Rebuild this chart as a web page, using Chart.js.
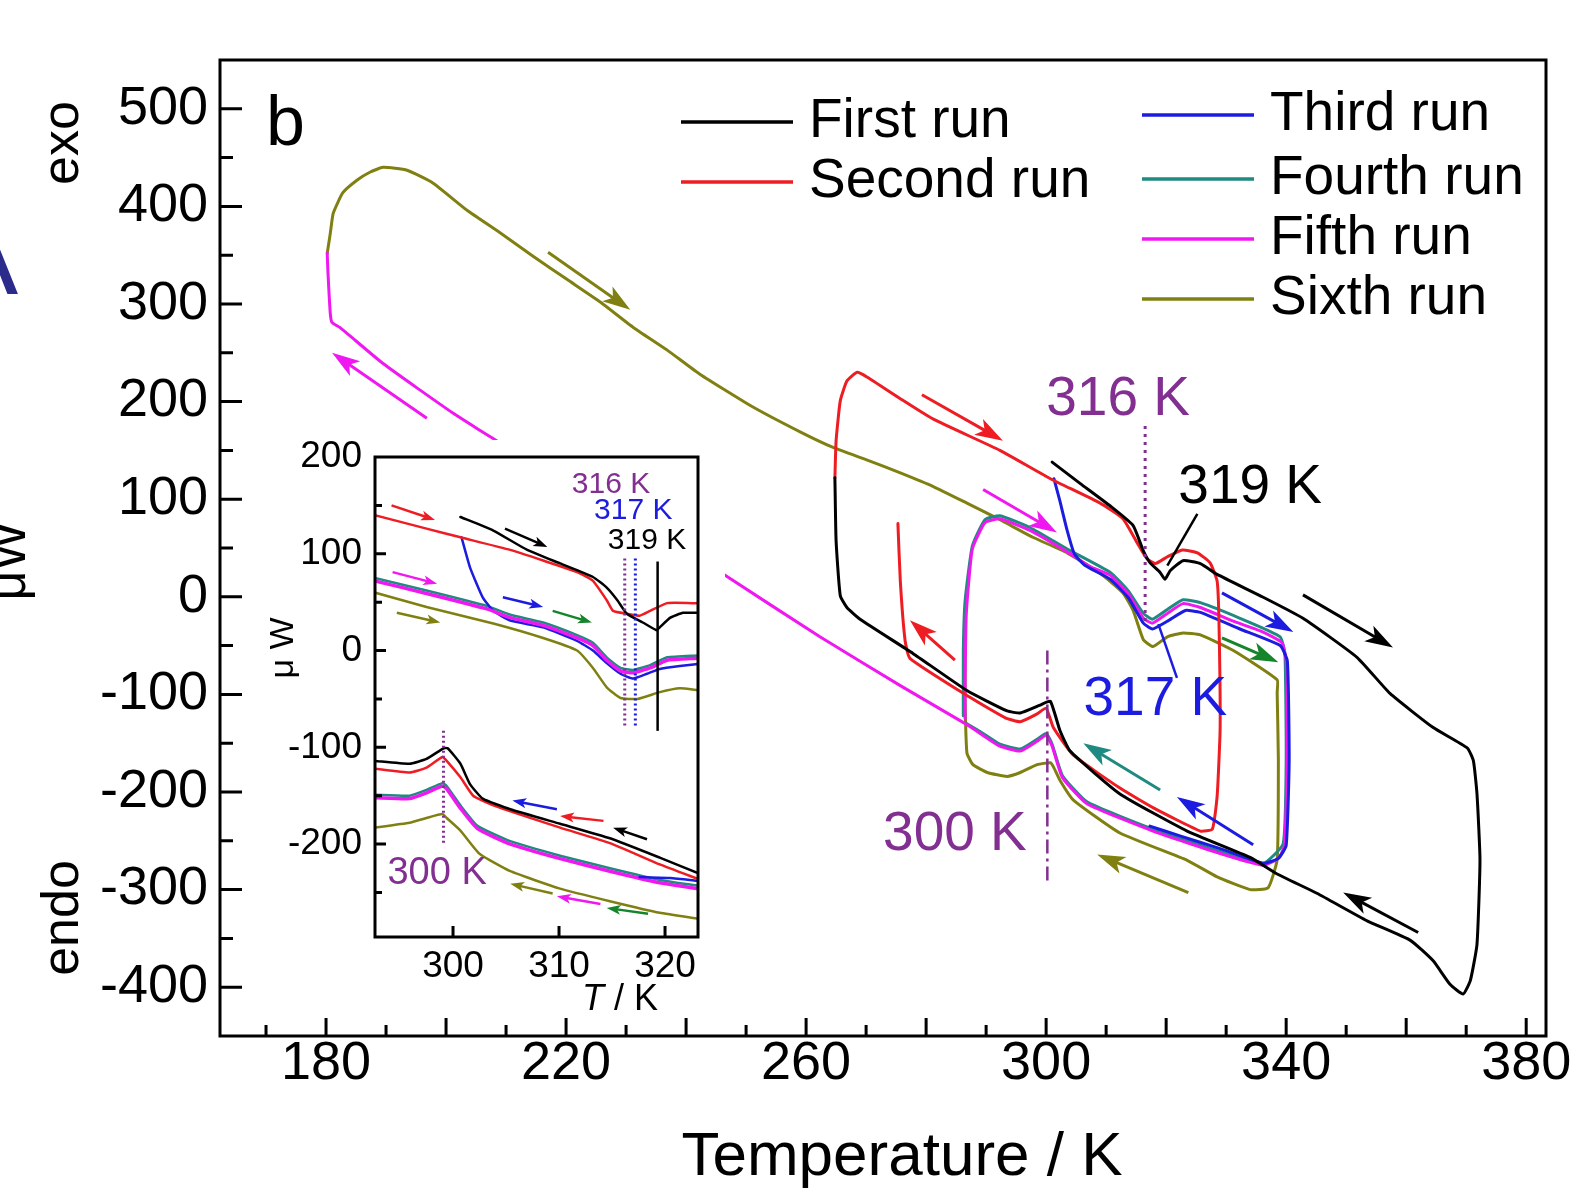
<!DOCTYPE html>
<html>
<head>
<meta charset="utf-8">
<script src="https://cdn.jsdelivr.net/npm/chart.js@4.4.1/dist/chart.umd.min.js"></script>
<style>
html, body { margin: 0; padding: 0; background: #fff; }
#wrap { position: relative; width: 1572px; height: 1188px; overflow: hidden; background: #fff; }
#main { position: absolute; left: 0; top: 0; }
#inset { position: absolute; left: 262px; top: 440px; background: #fff; }
</style>
</head>
<body>
<div id="wrap">
  <canvas id="main" width="1572" height="1188"></canvas>
  <canvas id="inset" width="463" height="578"></canvas>
</div>
<script>
// ---- main panel: heat flow (uW) vs temperature (K) ----
const firstRunT = [301, 305.7, 310.7, 314.5, 316.2, 317.3, 319, 319.8, 320.7, 322.8, 325.7, 328.5, 335.7, 342.8, 351.8, 357.3, 364.5, 370.2, 371.2, 371.8, 372.3, 371.8, 370.7, 369.5, 367.3, 364.5, 360.7, 353.5, 345.2, 338.5, 334, 323.5, 312.3, 304, 302.3, 300.7, 299, 295.7, 293.5, 286.8, 277.8, 269, 266.8, 265.7, 265, 264.8];
const firstRunQ = [138, 116, 93, 73, 47, 35, 25, 18, 27, 37, 34, 23, 1, -22, -62, -99, -134, -155, -168, -202, -270, -356, -393, -407, -397, -373, -352, -332, -304, -284, -267, -240, -202, -158, -137, -107, -111, -119, -117, -96, -58, -23, -11, 1, 57, 122];

const secondRunT = [264.8, 265, 265.7, 266.8, 268.5, 270.2, 275.7, 281.2, 292.3, 300.7, 309, 312.8, 315.2, 316.8, 318.2, 320.2, 322.7, 325.2, 327.3, 328.5, 328.8, 329, 328.5, 327.7, 325.7, 317.8, 312.3, 304.5, 301.2, 300, 298.5, 295.7, 293.2, 287.3, 277.3, 276.5, 275.7, 275.3];
const secondRunQ = [122, 160, 201, 221, 230, 225, 203, 182, 150, 121, 96, 80, 55, 39, 34, 41, 48, 45, 35, 16, -25, -134, -204, -238, -240, -216, -196, -162, -134, -114, -120, -128, -124, -103, -63, -45, 16, 75];

const thirdRunT = [301.3, 302.3, 303.5, 304.7, 306.5, 310.7, 313.7, 316.2, 317.7, 320.2, 323.2, 325.7, 332.3, 339, 340.2, 340.5, 340, 338.7, 336.2, 329, 322.3, 317.3];
const thirdRunQ = [121, 98, 68, 44, 32, 18, -1, -27, -33, -25, -14, -16, -33, -50, -66, -168, -255, -268, -273, -258, -245, -235];

const fourthRunT = [286.2, 286.2, 286.5, 287.7, 289.8, 292.3, 297.3, 303.5, 310.7, 313.7, 316.2, 317.7, 320.2, 322.8, 325.7, 332.3, 339, 339.8, 340, 339.5, 336.2, 329, 317.8, 306.8, 302.7, 301, 300, 298.5, 295.7, 292.3, 289, 286.5];
const fourthRunQ = [-122, -55, -4, 52, 79, 83, 71, 49, 25, 6, -17, -23, -13, -3, -6, -22, -41, -60, -168, -253, -273, -261, -238, -210, -183, -151, -140, -146, -156, -151, -138, -129];

const fifthRunT = [286.5, 286.5, 286.7, 287.7, 289.8, 292.3, 297.3, 303.5, 307.3, 310.7, 313.7, 316.2, 317.7, 320.2, 322.8, 325.7, 331.2, 335.7, 339.3, 340, 340.2, 339.7, 338.7, 336.2, 329, 317.8, 306.8, 302.7, 301, 300, 298.5, 295.7, 292.3, 289, 286.8, 275.7, 262.3, 246.5, 229, 209, 201.2, 189.5, 182.3, 181, 180.7, 180.3, 180.2];
const fifthRunQ = [-125, -86, -17, 49, 76, 80, 68, 46, 31, 22, 3, -22, -27, -17, -7, -11, -25, -35, -47, -66, -168, -255, -268, -275, -263, -240, -212, -185, -153, -142, -148, -158, -153, -140, -131, -91, -41, 22, 91, 158, 188, 239, 276, 281, 291, 335, 352];

const sixthRunT = [180.2, 180.7, 181.2, 182.8, 185.2, 187.3, 189.5, 193.5, 197.8, 203.5, 209, 214.5, 220.2, 225.7, 231.2, 236.8, 242.3, 250.7, 259, 264.5, 270.2, 275.7, 281.2, 286.8, 292.3, 297.8, 303.5, 309, 312.8, 314.5, 316.2, 317.8, 320.2, 322.8, 325.7, 331.2, 338.5, 338.5, 338.7, 338.5, 337, 334, 328.5, 323.5, 312.3, 304.5, 302.3, 301.2, 300.7, 298.5, 295.7, 293.5, 290.2, 287.8, 286.8, 286.5, 286.5];
const sixthRunQ = [352, 372, 393, 414, 427, 435, 440, 437, 424, 396, 373, 349, 325, 302, 276, 253, 228, 196, 169, 153, 140, 127, 113, 96, 79, 61, 45, 24, 4, -14, -44, -51, -41, -37, -39, -55, -85, -98, -167, -269, -298, -300, -287, -270, -242, -208, -188, -174, -170, -172, -180, -184, -180, -172, -160, -105, -54];

// ---- inset: 293-323 K, upper = heating, lower = cooling ----
const inFirstUpT = [300.7, 303.8, 307, 310.1, 313.2, 314.5, 315.5, 316.4, 317.9, 319.2, 319.5, 320.5, 321.7, 323.1];
const inFirstUpQ = [138, 124, 104, 90, 76, 65, 52, 38, 29, 21, 24, 34, 39, 39];
const inFirstLowT = [292.6, 295.9, 297.5, 299.1, 299.5, 300.7, 301.6, 302.8, 305.4, 310.1, 314.8, 319.5, 323.1];
const inFirstLowQ = [-114, -117, -112, -101, -101, -117, -138, -153, -164, -179, -194, -214, -230];

const inSecondUpT = [292.6, 297.5, 300.7, 305.4, 308.5, 311.7, 313.2, 314.5, 315.1, 316.4, 317.6, 318.6, 320.2, 322.6, 323.1];
const inSecondUpQ = [140, 126, 117, 104, 93, 81, 72, 52, 41, 38, 36, 41, 49, 49, 49];
const inSecondLowT = [292.6, 295.9, 297.5, 299, 299.4, 300.7, 301.9, 303.8, 310.1, 314.8, 319.5, 323.1];
const inSecondLowQ = [-122, -126, -121, -110, -114, -131, -150, -160, -183, -199, -221, -236];

const inThirdUpT = [300.8, 301.6, 302.8, 303.8, 305.4, 308.5, 311.7, 313.2, 314.5, 315.8, 317, 318.3, 319.5, 321.4, 323.1];
const inThirdUpQ = [117, 86, 55, 41, 31, 24, 10, 0, -13, -24, -29, -24, -19, -16, -14];
const inThirdLowT = [317.6, 320.5, 323.1];
const inThirdLowQ = [-234, -235, -238];

const inFourthUpT = [292.6, 297.5, 303.2, 305.4, 308.5, 311.7, 313.2, 314.5, 315.8, 317, 318.6, 320.2, 323.1];
const inFourthUpQ = [75, 62, 46, 37, 29, 16, 8, -7, -18, -20, -15, -7, -5];
const inFourthLowT = [292.6, 295.9, 297.5, 299, 299.4, 300.7, 302.3, 305.4, 310.1, 314.8, 319.5, 323.1];
const inFourthLowQ = [-149, -150, -144, -137, -140, -160, -181, -197, -212, -225, -237, -243];

const inFifthUpT = [292.6, 297.5, 303.2, 305.4, 308.5, 311.7, 313.2, 314.5, 315.8, 317, 318.6, 320.2, 323.1];
const inFifthUpQ = [72, 59, 43, 34, 26, 13, 5, -10, -21, -23, -18, -10, -8];
const inFifthLowT = [292.6, 295.9, 297.5, 299, 299.4, 300.7, 302.3, 305.4, 310.1, 314.8, 319.5, 323.1];
const inFifthLowQ = [-152, -153, -147, -140, -143, -163, -184, -200, -215, -228, -240, -246];

const inSixthUpT = [292.6, 297.5, 303.8, 308.5, 311.7, 313.2, 314.5, 315.8, 317.4, 319.5, 321.4, 323.1];
const inSixthUpQ = [60, 45, 28, 13, 0, -18, -38, -49, -50, -43, -39, -41];
const inSixthLowT = [292.6, 295.9, 297.5, 299, 299.4, 300.7, 302.5, 305.4, 310.1, 314.8, 319.5, 323.1];
const inSixthLowQ = [-183, -178, -173, -169, -173, -186, -210, -228, -246, -259, -271, -277];

const runLabels = ['First run', 'Second run', 'Third run', 'Fourth run', 'Fifth run', 'Sixth run'];

const BLACK = '#000000', RED = '#ee1d23', BLUE = '#1c1ce0', TEAL = '#1f8a82',
      MAGENTA = '#f018f0', OLIVE = '#808012', GREEN = '#14852a', PURPLE = '#822f91';
const FONT = "'Liberation Sans', Arial, Helvetica, sans-serif";

// direction arrows [tailT, tailQ, headT, headQ, colour]
const mainArrows = [
  [217, 353, 230.7, 294, OLIVE],
  [196.8, 183, 181, 250, MAGENTA],
  [279.3, 207, 292.8, 160, RED],
  [289.5, 110, 301.8, 66, MAGENTA],
  [329.3, 4, 341.2, -36, BLUE],
  [342.8, 2, 357.8, -52, BLACK],
  [329.3, -42, 338.7, -67, GREEN],
  [284.8, -65, 277.3, -24, RED],
  [319, -198, 306.2, -150, TEAL],
  [334.5, -254, 321.8, -205, BLUE],
  [323.7, -303, 308.5, -264, OLIVE],
  [362, -344, 349.5, -303, BLACK]
];
const insetArrows = [
  [294.2, 150, 298.3, 135, RED],
  [304.9, 126, 308.9, 107, BLACK],
  [294.3, 81, 298.5, 69, MAGENTA],
  [294.7, 39, 298.8, 29, OLIVE],
  [304.7, 55, 308.5, 45, BLUE],
  [309.4, 41, 313.1, 29, GREEN],
  [309.8, -164, 305.6, -155, BLUE],
  [314.2, -176, 310.1, -171, RED],
  [318.3, -195, 315.1, -183, BLACK],
  [309.4, -251, 305.4, -241, OLIVE],
  [313.9, -262, 309.8, -254, MAGENTA],
  [318.4, -272, 314.5, -266, GREEN]
];

function pts(T, Q) { return T.map((t, i) => ({x: t, y: Q[i]})); }
function line(label, T, Q, color, order, width) {
  return {label: label, data: pts(T, Q), borderColor: color, backgroundColor: color,
    borderWidth: width, showLine: true, pointRadius: 0, tension: 0.15,
    borderJoinStyle: 'round', borderCapStyle: 'round', order: order};
}

function drawArrow(ctx, x1, y1, x2, y2, color, L, W, lw) {
  const a = Math.atan2(y2 - y1, x2 - x1), c = Math.cos(a), s = Math.sin(a);
  const bx = x2 - L * c, by = y2 - L * s;
  ctx.strokeStyle = color; ctx.fillStyle = color; ctx.lineWidth = lw; ctx.setLineDash([]);
  ctx.beginPath(); ctx.moveTo(x1, y1); ctx.lineTo(x2 - 0.6 * L * c, y2 - 0.6 * L * s); ctx.stroke();
  ctx.beginPath();
  ctx.moveTo(x2, y2);
  ctx.lineTo(bx - W * s, by + W * c);
  ctx.lineTo(x2 - 0.75 * L * c, y2 - 0.75 * L * s);
  ctx.lineTo(bx + W * s, by - W * c);
  ctx.closePath(); ctx.fill();
}

// frame + inward tick marks
const framePlugin = {
  id: 'frame',
  afterDraw(chart, args, o) {
    const {ctx, chartArea: a} = chart, x = chart.scales.x, y = chart.scales.y;
    ctx.save();
    ctx.strokeStyle = '#000'; ctx.lineWidth = o.width; ctx.setLineDash([]);
    ctx.beginPath();
    x.ticks.forEach(t => {
      const p = x.getPixelForValue(t.value);
      if (p <= a.left + 1 || p >= a.right - 1) return;
      const len = t.value % o.xMajorStep === 0 ? o.xMajor : o.xMinor;
      ctx.moveTo(p, a.bottom); ctx.lineTo(p, a.bottom - len);
    });
    y.ticks.forEach(t => {
      const p = y.getPixelForValue(t.value);
      if (p <= a.top + 1 || p >= a.bottom - 1) return;
      const len = t.value % o.yMajorStep === 0 ? o.yMajor : o.yMinor;
      ctx.moveTo(a.left, p); ctx.lineTo(a.left + len, p);
    });
    ctx.stroke();
    ctx.strokeRect(a.left, a.top, a.right - a.left, a.bottom - a.top);
    ctx.restore();
  }
};

// marker lines, pointers, arrows and labels placed in data units
const notesPlugin = {
  id: 'notes',
  afterDatasetsDraw(chart, args, o) {
    const ctx = chart.ctx, x = chart.scales.x, y = chart.scales.y;
    const X = v => x.getPixelForValue(v), Y = v => y.getPixelForValue(v);
    ctx.save();
    (o.vlines || []).forEach(l => {
      ctx.strokeStyle = l.color; ctx.lineWidth = l.width; ctx.setLineDash(l.dash || []);
      ctx.beginPath(); ctx.moveTo(X(l.x), Y(l.y1)); ctx.lineTo(X(l.x), Y(l.y2)); ctx.stroke();
    });
    ctx.setLineDash([]);
    (o.pointers || []).forEach(p => {
      ctx.strokeStyle = p.color; ctx.lineWidth = p.width;
      ctx.beginPath(); ctx.moveTo(X(p.x1), Y(p.y1)); ctx.lineTo(X(p.x2), Y(p.y2)); ctx.stroke();
    });
    (o.arrows || []).forEach(r => drawArrow(ctx, X(r[0]), Y(r[1]), X(r[2]), Y(r[3]), r[4], o.head[0], o.head[1], o.head[2]));
    (o.texts || []).forEach(t => {
      ctx.fillStyle = t.color; ctx.font = t.size + 'px ' + FONT;
      ctx.textAlign = 'center'; ctx.textBaseline = 'middle';
      ctx.fillText(t.text, X(t.x), Y(t.y));
    });
    ctx.restore();
  }
};

// free text, rotated titles and the legend (layout in pixels)
const decorPlugin = {
  id: 'decor',
  afterDraw(chart, args, o) {
    const ctx = chart.ctx;
    ctx.save();
    (o.items || []).forEach(it => {
      ctx.save();
      ctx.translate(it.x, it.y);
      if (it.rotate) ctx.rotate(it.rotate);
      ctx.fillStyle = it.color || '#000';
      ctx.textAlign = it.align || 'center';
      ctx.textBaseline = it.baseline || 'middle';
      if (it.parts) {
        let total = 0;
        it.parts.forEach(p => { ctx.font = p.style + ' ' + it.size + 'px ' + FONT; total += ctx.measureText(p.text).width; });
        let cx = -total / 2;
        ctx.textAlign = 'left';
        it.parts.forEach(p => { ctx.font = p.style + ' ' + it.size + 'px ' + FONT; ctx.fillText(p.text, cx, 0); cx += ctx.measureText(p.text).width; });
      } else {
        ctx.font = it.size + 'px ' + FONT;
        ctx.fillText(it.text, 0, 0);
      }
      ctx.restore();
    });
    (o.legend || []).forEach(e => {
      const ds = chart.data.datasets[e.ds];
      ctx.strokeStyle = ds.borderColor; ctx.lineWidth = 3.5;
      ctx.beginPath(); ctx.moveTo(e.x, e.y); ctx.lineTo(e.x + 112, e.y); ctx.stroke();
      ctx.fillStyle = '#000'; ctx.font = o.legendSize + 'px ' + FONT;
      ctx.textAlign = 'left'; ctx.textBaseline = 'middle';
      ctx.fillText(ds.label, e.x + 128, e.y);
    });
    ctx.restore();
  }
};

const mainChart = new Chart(document.getElementById('main'), {
  type: 'scatter',
  data: {
    datasets: [
      line(runLabels[0], firstRunT, firstRunQ, BLACK, 1, 3),
      line(runLabels[1], secondRunT, secondRunQ, RED, 2, 3),
      line(runLabels[2], thirdRunT, thirdRunQ, BLUE, 3, 3),
      line(runLabels[3], fourthRunT, fourthRunQ, TEAL, 5, 3),
      line(runLabels[4], fifthRunT, fifthRunQ, MAGENTA, 4, 3),
      line(runLabels[5], sixthRunT, sixthRunQ, OLIVE, 6, 3)
    ]
  },
  options: {
    responsive: false,
    animation: false,
    events: [],
    layout: {padding: {top: 60, right: 26, bottom: 0, left: 0}},
    scales: {
      x: {
        type: 'linear', min: 162.33, max: 383.3,
        grid: {display: false, drawTicks: false}, border: {display: false},
        ticks: {
          stepSize: 10, includeBounds: false, autoSkip: false, maxRotation: 0, minRotation: 0,
          padding: -4, color: '#000', font: {family: FONT, size: 54},
          callback: v => ((v - 180) % 40 === 0 ? String(v) : '')
        },
        afterFit: s => { s.height = 152; s.paddingLeft = 0; s.paddingRight = 0; }
      },
      y: {
        type: 'linear', min: -450, max: 550,
        grid: {display: false, drawTicks: false}, border: {display: false},
        ticks: {
          stepSize: 50, includeBounds: false, autoSkip: false,
          padding: 12, color: '#000', font: {family: FONT, size: 54},
          callback: v => (v % 100 === 0 && v >= -400 && v <= 500 ? String(v) : '')
        },
        afterFit: s => { s.width = 220; s.paddingTop = 0; s.paddingBottom = 0; }
      }
    },
    plugins: {
      legend: {display: false},
      tooltip: {enabled: false},
      frame: {width: 3, xMajorStep: 20, xMajor: 18, xMinor: 11, yMajorStep: 100, yMajor: 22, yMinor: 13},
      notes: {
        head: [28, 9, 3],
        arrows: mainArrows,
        vlines: [
          {x: 316.5, y1: 175, y2: -30, color: PURPLE, width: 3, dash: [3, 5]},
          {x: 300.2, y1: -55, y2: -294, color: PURPLE, width: 2.5, dash: [14, 5, 3, 5]}
        ],
        pointers: [
          {x1: 325.2, y1: 85, x2: 320.2, y2: 32, color: BLACK, width: 2.5},
          {x1: 321.8, y1: -83, x2: 318.7, y2: -28, color: BLUE, width: 2.5}
        ],
        texts: [
          {text: '316 K', x: 312, y: 202, color: PURPLE, size: 55},
          {text: '319 K', x: 334, y: 112, color: BLACK, size: 55},
          {text: '317 K', x: 318.2, y: -106, color: BLUE, size: 55},
          {text: '300 K', x: 284.8, y: -244, color: PURPLE, size: 55}
        ]
      },
      decor: {
        legendSize: 55,
        legend: [
          {ds: 0, x: 681, y: 122}, {ds: 1, x: 681, y: 182},
          {ds: 2, x: 1142, y: 115}, {ds: 3, x: 1142, y: 179},
          {ds: 4, x: 1142, y: 239}, {ds: 5, x: 1142, y: 299}
        ],
        items: [
          {text: 'b', x: 266, y: 145, size: 70, align: 'left', baseline: 'alphabetic'},
          {text: 'exo', x: 78, y: 143, size: 52, rotate: -Math.PI / 2, baseline: 'alphabetic'},
          {text: 'endo', x: 78, y: 918, size: 52, rotate: -Math.PI / 2, baseline: 'alphabetic'},
          {text: 'μW', x: 25, y: 561, size: 52, rotate: -Math.PI / 2, baseline: 'alphabetic'},
          {text: 'A', x: 18, y: 294, size: 110, align: 'right', baseline: 'alphabetic', color: '#2b2b8c'},
          {text: 'Temperature / K', x: 902, y: 1158, size: 62}
        ]
      }
    }
  },
  plugins: [framePlugin, notesPlugin, decorPlugin]
});

const insetChart = new Chart(document.getElementById('inset'), {
  type: 'scatter',
  data: {
    datasets: [
      line(runLabels[0], inFirstUpT, inFirstUpQ, BLACK, 1, 2.5),
      line(runLabels[0], inFirstLowT, inFirstLowQ, BLACK, 1, 2.5),
      line(runLabels[1], inSecondUpT, inSecondUpQ, RED, 2, 2.5),
      line(runLabels[1], inSecondLowT, inSecondLowQ, RED, 2, 2.5),
      line(runLabels[2], inThirdUpT, inThirdUpQ, BLUE, 4, 2.5),
      line(runLabels[2], inThirdLowT, inThirdLowQ, BLUE, 2, 2.5),
      line(runLabels[3], inFourthUpT, inFourthUpQ, TEAL, 5, 2.5),
      line(runLabels[3], inFourthLowT, inFourthLowQ, TEAL, 5, 2.5),
      line(runLabels[4], inFifthUpT, inFifthUpQ, MAGENTA, 3, 3.5),
      line(runLabels[4], inFifthLowT, inFifthLowQ, MAGENTA, 3, 3.5),
      line(runLabels[5], inSixthUpT, inSixthUpQ, OLIVE, 6, 2.5),
      line(runLabels[5], inSixthLowT, inSixthLowQ, OLIVE, 6, 2.5)
    ]
  },
  options: {
    responsive: false,
    animation: false,
    events: [],
    layout: {padding: {top: 17, right: 27, bottom: 0, left: 0}},
    scales: {
      x: {
        type: 'linear', min: 292.64, max: 323.11,
        grid: {display: false, drawTicks: false}, border: {display: false},
        ticks: {
          stepSize: 10, includeBounds: false, autoSkip: false, maxRotation: 0, minRotation: 0,
          padding: 8, color: '#000', font: {family: FONT, size: 37}
        },
        afterFit: s => { s.height = 81; s.paddingLeft = 0; s.paddingRight = 0; }
      },
      y: {
        type: 'linear', min: -296, max: 200,
        grid: {display: false, drawTicks: false}, border: {display: false},
        ticks: {
          stepSize: 50, includeBounds: false, autoSkip: false,
          padding: 13, color: '#000', font: {family: FONT, size: 37},
          callback: v => (v % 100 === 0 ? String(v) : '')
        },
        afterFit: s => { s.width = 113; s.paddingTop = 0; s.paddingBottom = 0; }
      }
    },
    plugins: {
      legend: {display: false},
      tooltip: {enabled: false},
      frame: {width: 3, xMajorStep: 10, xMajor: 11, xMinor: 11, yMajorStep: 100, yMajor: 11, yMinor: 7},
      notes: {
        head: [14, 5, 2.5],
        arrows: insetArrows,
        vlines: [
          {x: 316.2, y1: 95, y2: -78, color: PURPLE, width: 3, dash: [2, 3]},
          {x: 317.2, y1: 95, y2: -78, color: BLUE, width: 3, dash: [2, 3]},
          {x: 319.3, y1: 92, y2: -83, color: BLACK, width: 2.5},
          {x: 299.1, y1: -83, y2: -200, color: PURPLE, width: 3, dash: [2, 3]}
        ],
        texts: [
          {text: '316 K', x: 314.9, y: 171, color: PURPLE, size: 30},
          {text: '317 K', x: 317, y: 144, color: BLUE, size: 30},
          {text: '319 K', x: 318.3, y: 113, color: BLACK, size: 30},
          {text: '300 K', x: 298.5, y: -230, color: PURPLE, size: 38}
        ]
      },
      decor: {
        items: [
          {text: 'μ W', x: 31, y: 208, size: 34, rotate: -Math.PI / 2, baseline: 'alphabetic'},
          {x: 358, y: 560, size: 36, parts: [{text: 'T', style: 'italic'}, {text: ' / K', style: 'normal'}]}
        ]
      }
    }
  },
  plugins: [framePlugin, notesPlugin, decorPlugin]
});
</script>
</body>
</html>
